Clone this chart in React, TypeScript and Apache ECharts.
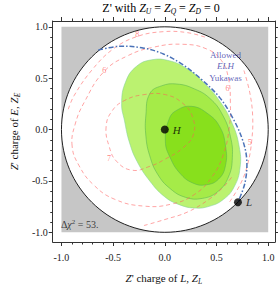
import React, { useEffect, useRef } from "react";
import * as echarts from "echarts";

const FONT = "'Liberation Serif', 'DejaVu Serif', serif";

// axes
const majorTicks = [-1, -0.5, 0, 0.5, 1];
const majorTickLabels = ["-1.0", "-0.5", "0.0", "0.5", "1.0"];
const minorTicks = [-1, -0.9, -0.8, -0.7, -0.6, -0.5, -0.4, -0.3, -0.2, -0.1, 0, 0.1, 0.2, 0.3, 0.4, 0.5, 0.6, 0.7, 0.8, 0.9, 1];
const xRange = [-1.0845, 1.0657];
const yRange = [-1.0943, 1.0566];

// geometry
const chargeSquare = [[-1, 1], [1, -1]];
const unitDisk = [0, 0, 1];
const pointH = [0, 0];
const pointL = [0.707, -0.707];

const greenOuter = [
  [-0.277, 0.613], [-0.127, 0.679], [0.042, 0.670], [0.211, 0.594], [0.380, 0.453],
  [0.540, 0.264], [0.653, 0.057], [0.718, -0.160], [0.728, -0.368], [0.671, -0.557],
  [0.568, -0.679], [0.437, -0.745], [0.286, -0.764], [0.127, -0.726], [-0.005, -0.651],
  [-0.146, -0.500], [-0.268, -0.311], [-0.343, -0.123], [-0.390, 0.085], [-0.418, 0.255],
  [-0.380, 0.462],
];
const greenMiddle = [
  [-0.146, 0.349], [-0.033, 0.425], [0.117, 0.443], [0.286, 0.396], [0.437, 0.302],
  [0.559, 0.142], [0.634, -0.066], [0.653, -0.274], [0.615, -0.462], [0.512, -0.604],
  [0.362, -0.670], [0.202, -0.660], [0.052, -0.575], [-0.070, -0.434], [-0.146, -0.255],
  [-0.183, -0.066], [-0.183, 0.142],
];
const greenInner = [
  [0.042, 0.104], [0.117, 0.189], [0.258, 0.226], [0.408, 0.160], [0.531, 0.028],
  [0.587, -0.160], [0.587, -0.349], [0.521, -0.481], [0.399, -0.538], [0.268, -0.519],
  [0.146, -0.425], [0.052, -0.274], [0.005, -0.113],
];
const allowedYukawaBoundary = [
  [-0.643, 0.774], [-0.437, 0.811], [-0.202, 0.792], [-0.014, 0.736], [0.174, 0.632],
  [0.362, 0.481], [0.531, 0.311], [0.662, 0.104], [0.756, -0.113], [0.793, -0.302],
  [0.775, -0.519], [0.707, -0.707],
];

// dashed contours
const contour8Upper = [
  [-0.934, 0.198], [-0.878, 0.330], [-0.709, 0.575], [-0.502, 0.783], [-0.268, 0.906],
  [-0.014, 0.953], [0.221, 0.943], [0.399, 0.896],
];
const contour8Lower = [
  [-0.202, -0.934], [-0.005, -0.877], [0.221, -0.802], [0.427, -0.679], [0.568, -0.557], [0.662, -0.443],
];
const contour5 = [
  [0.765, 0.575], [0.822, 0.358], [0.850, 0.123], [0.840, -0.113], [0.803, -0.330],
  [0.737, -0.519], [0.624, -0.708],
];
const contour6 = [
  [-0.897, -0.160], [-0.869, 0.047], [-0.775, 0.274], [-0.587, 0.566], [-0.362, 0.717],
  [-0.108, 0.802], [0.174, 0.830], [0.408, 0.783], [0.549, 0.670], [0.615, 0.500],
  [0.634, 0.264], [0.624, 0.028], [0.568, -0.236], [0.455, -0.462], [0.286, -0.632],
  [0.061, -0.726], [-0.202, -0.745], [-0.484, -0.679], [-0.690, -0.538], [-0.831, -0.349],
];
const contour7 = [
  [-0.568, 0.028], [-0.540, -0.160], [-0.465, -0.311], [-0.315, -0.396], [-0.146, -0.358],
  [-0.005, -0.292], [0.174, -0.179], [0.277, -0.047], [0.268, 0.123], [0.174, 0.255],
  [0.005, 0.340], [-0.202, 0.340], [-0.390, 0.283], [-0.512, 0.179],
];
const contourLabels: [string, number, number][] = [
  ["8", -0.268, 0.925],
  ["6", -0.587, 0.575],
  ["6", 0.605, 0.395],
  ["5", 0.822, -0.123],
  ["7", -0.540, -0.283],
];
const allowedLines = ["Allowed", "ELH", "Yukawas"];
const allowedAnchor = [0.587, 0.614];
const chiSquared = "53.";
const chiAnchor = [-1.005, -0.925];

const fmtTick = (v: number) => {
  const i = majorTicks.indexOf(v);
  return i >= 0 ? majorTickLabels[i] : "";
};

const richBase = {
  r: { fontFamily: FONT, fontSize: 11, color: "#111" },
  i: { fontFamily: FONT, fontSize: 11, fontStyle: "italic", color: "#111" },
  s: { fontFamily: FONT, fontSize: 7.5, fontStyle: "italic", color: "#111", padding: [7, 0, 0, 0] },
};

function polygonSeries(points: number[][], style: any) {
  return {
    type: "custom",
    coordinateSystem: "cartesian2d",
    silent: true,
    clip: false,
    data: [points[0]],
    renderItem: (_p: any, api: any) => ({
      type: "polygon",
      shape: { points: points.map((p) => api.coord(p)), smooth: 0.45 },
      style,
    }),
  };
}

function polylineSeries(points: number[][], style: any, smooth = 0.4) {
  return {
    type: "custom",
    coordinateSystem: "cartesian2d",
    silent: true,
    clip: false,
    data: [points[0]],
    renderItem: (_p: any, api: any) => ({
      type: "polyline",
      shape: { points: points.map((p) => api.coord(p)), smooth },
      style: { fill: null, ...style },
    }),
  };
}

function buildOption() {
  const frameColor = "#333";
  const base = (r: number[]) => ({
    type: "value",
    min: r[0],
    max: r[1],
    splitLine: { show: false },
    axisLine: { show: true, onZero: false, lineStyle: { color: frameColor, width: 1 } },
  });
  const majorTick = { show: true, inside: false, length: 4, customValues: majorTicks, lineStyle: { color: frameColor } };
  const minorTick = { show: true, inside: false, length: 2.5, customValues: minorTicks, lineStyle: { color: frameColor } };
  const label = { show: true, customValues: majorTicks, formatter: fmtTick, fontFamily: FONT, fontSize: 10, color: "#222" };

  const pink = { stroke: "rgba(255,90,90,0.55)", lineWidth: 1, lineDash: [4, 3] };

  return {
    animation: false,
    grid: { left: 46, right: 3, top: 21, bottom: 41, containLabel: false },
    graphic: [
      {
        type: "text",
        x: 161,
        y: 8,
        style: {
          text: "{r|Z' with }{i|Z}{s|U}{r| = }{i|Z}{s|Q}{r| = }{i|Z}{s|D}{r| = 0}",
          rich: { ...richBase, r: { ...richBase.r, fontSize: 12 }, i: { ...richBase.i, fontSize: 12 } },
          align: "center",
          verticalAlign: "middle",
        },
      },
    ],
    xAxis: [
      {
        ...base(xRange),
        position: "bottom",
        axisTick: majorTick,
        axisLabel: { ...label, margin: 10 },
        name: "{i|Z}{r|' charge of }{i|L}{r|, }{i|Z}{s|L}",
        nameLocation: "middle",
        nameGap: 28,
        nameTextStyle: { rich: richBase },
      },
      { ...base(xRange), position: "bottom", axisLine: { show: false, onZero: false }, axisTick: minorTick, axisLabel: { show: false } },
      { ...base(xRange), position: "top", axisTick: majorTick, axisLabel: { show: false } },
      { ...base(xRange), position: "top", axisLine: { show: false, onZero: false }, axisTick: minorTick, axisLabel: { show: false } },
    ],
    yAxis: [
      {
        ...base(yRange),
        position: "left",
        axisTick: majorTick,
        axisLabel: { ...label, margin: 5 },
        name: "{i|Z}{r|' charge of }{i|E}{r|, }{i|Z}{s|E}",
        nameLocation: "middle",
        nameRotate: 90,
        nameGap: 29,
        nameTextStyle: { rich: richBase },
      },
      { ...base(yRange), position: "left", axisLine: { show: false, onZero: false }, axisTick: minorTick, axisLabel: { show: false } },
      { ...base(yRange), position: "right", axisTick: majorTick, axisLabel: { show: false } },
      { ...base(yRange), position: "right", axisLine: { show: false, onZero: false }, axisTick: minorTick, axisLabel: { show: false } },
    ],
    series: [
      {
        type: "custom",
        coordinateSystem: "cartesian2d",
        silent: true,
        clip: false,
        data: [chargeSquare[0]],
        renderItem: (_p: any, api: any) => {
          const a = api.coord(chargeSquare[0]);
          const b = api.coord(chargeSquare[1]);
          return { type: "rect", shape: { x: a[0], y: a[1], width: b[0] - a[0], height: b[1] - a[1] }, style: { fill: "#c6c6c6" } };
        },
      },
      {
        type: "custom",
        coordinateSystem: "cartesian2d",
        silent: true,
        clip: false,
        data: [[unitDisk[0], unitDisk[1]]],
        renderItem: (_p: any, api: any) => {
          const c = api.coord([unitDisk[0], unitDisk[1]]);
          const s = api.size([unitDisk[2], unitDisk[2]]);
          return { type: "ellipse", shape: { cx: c[0], cy: c[1], rx: s[0], ry: s[1] }, style: { fill: "#ffffff", stroke: "#222", lineWidth: 1 } };
        },
      },
      polygonSeries(greenOuter, { fill: "#bbf270", stroke: "rgba(130,210,150,0.7)", lineWidth: 0.8 }),
      polygonSeries(greenMiddle, { fill: "#a5eb48", stroke: "rgba(90,180,80,0.8)", lineWidth: 0.7 }),
      polygonSeries(greenInner, { fill: "#88e01c", stroke: "rgba(90,180,80,0.8)", lineWidth: 0.7 }),
      polylineSeries(contour8Upper, pink),
      polylineSeries(contour8Lower, pink),
      polylineSeries(contour5, pink),
      polygonSeries(contour6, { fill: null, ...pink }),
      polygonSeries(contour7, { fill: null, ...pink }),
      polylineSeries(allowedYukawaBoundary, { stroke: "#4a72b8", lineWidth: 1.5, lineDash: [5, 2, 1.5, 2] }, 0.35),
      {
        type: "scatter",
        silent: true,
        symbol: "circle",
        symbolSize: 0,
        data: contourLabels.map((c) => ({ value: [c[1], c[2]], name: c[0] })),
        label: {
          show: true,
          position: "inside",
          formatter: (p: any) => p.name,
          fontFamily: FONT,
          fontSize: 8,
          color: "rgba(255,70,70,0.85)",
        },
      },
      {
        type: "scatter",
        silent: true,
        symbolSize: 0,
        data: [{ value: allowedAnchor }],
        label: {
          show: true,
          position: "inside",
          formatter: `{r|${allowedLines[0]}}\n{i|${allowedLines[1]}}\n{r|${allowedLines[2]}}`,
          lineHeight: 11.5,
          rich: {
            r: { fontFamily: FONT, fontSize: 9, color: "#3a3aa8", lineHeight: 11.5 },
            i: { fontFamily: FONT, fontSize: 9, fontStyle: "italic", color: "#3a3aa8", lineHeight: 11.5 },
          },
        },
      },
      {
        type: "scatter",
        silent: true,
        symbolSize: 0,
        data: [{ value: chiAnchor }],
        label: {
          show: true,
          position: "inside",
          align: "left",
          formatter: `{r|Δ}{i|χ}{p|2}{r| = ${chiSquared}}`,
          rich: {
            r: { fontFamily: FONT, fontSize: 10, color: "#111" },
            i: { fontFamily: FONT, fontSize: 10, fontStyle: "italic", color: "#111" },
            p: { fontFamily: FONT, fontSize: 7, color: "#111", padding: [0, 0, 6, 0] },
          },
        },
      },
      {
        type: "scatter",
        silent: true,
        symbol: "circle",
        symbolSize: 8,
        itemStyle: { color: "#000" },
        data: [
          { value: pointH, name: "H" },
          { value: pointL, name: "L" },
        ],
        label: {
          show: true,
          position: "right",
          distance: 4,
          formatter: (p: any) => p.name,
          fontFamily: FONT,
          fontSize: 11,
          fontStyle: "italic",
          color: "#000",
        },
      },
    ],
  };
}

export default function App() {
  const ref = useRef<HTMLDivElement>(null);
  useEffect(() => {
    if (!ref.current) return;
    const chart = echarts.init(ref.current, undefined, { renderer: "svg" });
    chart.setOption(buildOption() as any);
    return () => chart.dispose();
  }, []);
  return <div ref={ref} style={{ width: 278, height: 290, position: "absolute", left: 0, top: 0 }} />;
}
